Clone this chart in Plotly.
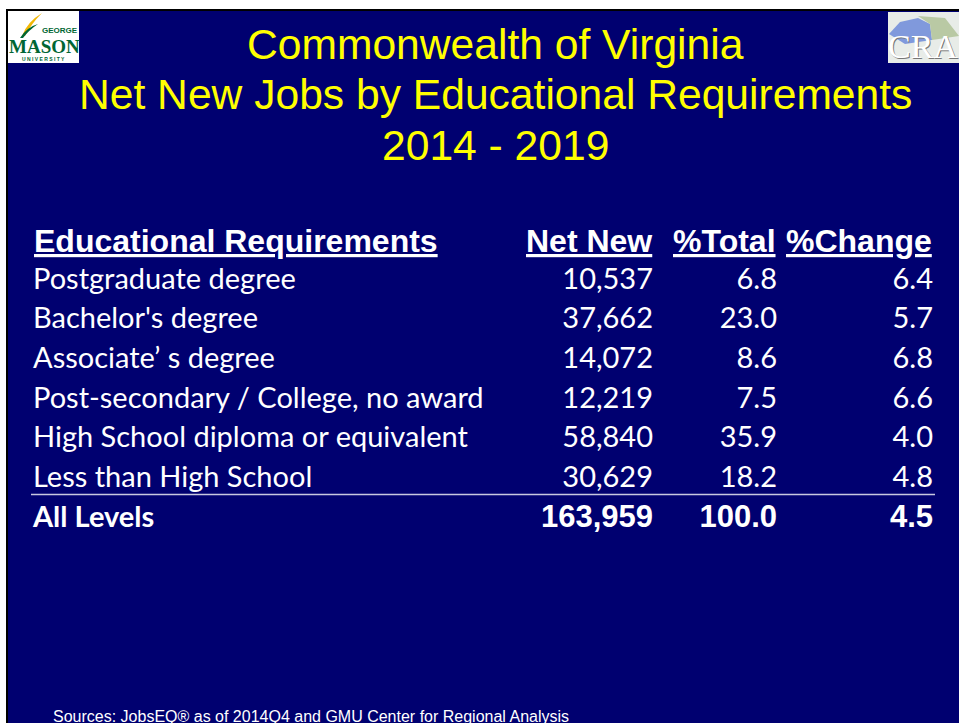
import plotly.graph_objects as go

# --- Data ---
categories = [
    "Postgraduate degree",
    "Bachelor's degree",
    "Associate\u2019 s degree",
    "Post-secondary / College, no award",
    "High School diploma or equivalent",
    "Less than High School",
]
net_new = [10537, 37662, 14072, 12219, 58840, 30629]
pct_total = [6.8, 23.0, 8.6, 7.5, 35.9, 18.2]
pct_change = [6.4, 5.7, 6.8, 6.6, 4.0, 4.8]

total_label = "All Levels"
total_net_new = 163959
total_pct_total = 100.0
total_pct_change = 4.5

headers = ["Educational Requirements", "Net New", "%Total", "%Change"]
title_lines = ["Commonwealth of Virginia", "Net New Jobs by Educational Requirements", "2014 - 2019"]
source_text = "Sources: JobsEQ\u00ae as of 2014Q4 and GMU Center for Regional Analysis"

# --- Styles ---
W, H = 959, 723
BG = "#000070"
YELLOW = "#FFFF00"
ARIAL = "Liberation Sans, Arial, sans-serif"
CALIBRI = "Lato, Carlito, Calibri, sans-serif"
SERIF = "Liberation Serif, Times New Roman, serif"

# column anchors (px): label column is left aligned, numbers right aligned
COL_X = [33, 653, 777, 933]
HEADER_Y = 241
FIRST_ROW_Y, LAST_ROW_Y = 281.5, 519.5   # centre of first row / total row (text sits a bit high)


def px(x):
    return x / W


def py(y):
    return 1 - y / H


# --- Rows (categories + total) ---
rows = categories + [total_label]
n = len(categories)
row_text = [[c for c in categories] + [f"<b>{total_label}</b>"],
            [f"{v:,}" for v in net_new] + [f"<b>{total_net_new:,}</b>"],
            [f"{v:.1f}" for v in pct_total] + [f"<b>{total_pct_total:.1f}</b>"],
            [f"{v:.1f}" for v in pct_change] + [f"<b>{total_pct_change:.1f}</b>"]]

fig = go.Figure()
for i, texts in enumerate(row_text):
    if i == 0:
        fam = [CALIBRI] * (n + 1)
        size = [29] * (n + 1)
        pos = "middle right"
    else:
        fam = [CALIBRI] * n + [ARIAL]
        size = [29] * n + [31]
        pos = "middle left"
    fig.add_trace(go.Scatter(
        x=[COL_X[i]] * len(rows), y=rows, text=texts,
        mode="text", textposition=pos,
        textfont=dict(family=fam, size=size, color="white"),
        hoverinfo="skip", showlegend=False, cliponaxis=False,
    ))

shapes = [
    # slide background with dark frame
    dict(type="rect", xref="paper", yref="paper", x0=px(7), x1=1.02, y0=-0.02, y1=py(10),
         fillcolor=BG, line=dict(color="black", width=2), layer="below"),
    # rule above the total row
    dict(type="line", xref="paper", yref="paper", x0=px(31), x1=px(935), y0=py(494.5), y1=py(494.5),
         line=dict(color="#C8C8E0", width=1.5)),
    # GMU logo box
    dict(type="rect", xref="paper", yref="paper", x0=px(8), x1=px(79), y0=py(63), y1=py(11),
         fillcolor="white", line=dict(width=0)),
    dict(type="path", xref="paper", yref="paper",
         path=f"M {px(22)},{py(36)} Q {px(27)},{py(22)} {px(42)},{py(13)} Q {px(31)},{py(24)} {px(25)},{py(36)} Z",
         fillcolor="#F2B705", line=dict(width=0)),
    dict(type="path", xref="paper", yref="paper",
         path=f"M {px(20)},{py(38)} Q {px(27)},{py(27)} {px(38)},{py(24)} Q {px(29)},{py(30)} {px(23)},{py(38)} Z",
         fillcolor="#006633", line=dict(width=0)),
    # CRA logo box
    dict(type="rect", xref="paper", yref="paper", x0=px(888), x1=1.0, y0=py(63), y1=py(12),
         fillcolor="#E8ECE8", line=dict(width=0)),
    dict(type="path", xref="paper", yref="paper",
         path=f"M {px(889)},{py(34)} L {px(900)},{py(22)} L {px(918)},{py(18)} L {px(930)},{py(24)} L {px(932)},{py(40)} L {px(905)},{py(44)} Z",
         fillcolor="#8099DC", line=dict(width=0)),
    dict(type="path", xref="paper", yref="paper",
         path=f"M {px(918)},{py(16)} L {px(945)},{py(18)} L {px(959)},{py(36)} L {px(932)},{py(40)} L {px(930)},{py(24)} Z",
         fillcolor="#B9C9A4", line=dict(width=0)),
]

annotations = []
for i, line in enumerate(title_lines):
    annotations.append(dict(
        text=line, x=px(495), y=py(44 + 50.5 * i), xref="paper", yref="paper",
        xanchor="center", yanchor="middle", showarrow=False,
        font=dict(family=ARIAL, size=42.6, color=YELLOW),
    ))
for i, h in enumerate(headers):
    annotations.append(dict(
        text=f"<b><u>{h}</u></b>", x=px(COL_X[i] + (-1 if i == 0 else 1)), y=py(HEADER_Y),
        xref="paper", yref="paper", xanchor="left" if i == 0 else "right", yanchor="middle",
        showarrow=False, font=dict(family=ARIAL, size=32, color="white"),
    ))
annotations.append(dict(
    text=source_text, x=px(51), y=py(716), xref="paper", yref="paper",
    xanchor="left", yanchor="middle", showarrow=False,
    font=dict(family=ARIAL, size=16, color="white"),
))
# logo lettering
annotations += [
    dict(text="<b>GEORGE</b>", x=px(60), y=py(31), xref="paper", yref="paper", showarrow=False,
         xanchor="center", yanchor="middle", font=dict(family=ARIAL, size=8, color="#006633")),
    dict(text="<b>MASON</b>", x=px(44), y=py(46), xref="paper", yref="paper", showarrow=False,
         xanchor="center", yanchor="middle", font=dict(family=SERIF, size=19, color="#006633")),
    dict(text="<b>U N I V E R S I T Y</b>", x=px(43), y=py(59), xref="paper", yref="paper", showarrow=False,
         xanchor="center", yanchor="middle", font=dict(family=ARIAL, size=5, color="#006633")),
    dict(text="CRA", x=px(887), y=py(48), xref="paper", yref="paper", xanchor="left", yanchor="middle",
         showarrow=False, font=dict(family=SERIF, size=34, color="#777777")),
    dict(text="CRA", x=px(886), y=py(47), xref="paper", yref="paper", xanchor="left", yanchor="middle",
         showarrow=False, font=dict(family=SERIF, size=34, color="white")),
]

step = (LAST_ROW_Y - FIRST_ROW_Y) / n
fig.update_layout(
    width=W, height=H,
    margin=dict(l=0, r=0, t=0, b=0),
    paper_bgcolor="white",
    plot_bgcolor="rgba(0,0,0,0)",
    xaxis=dict(range=[0, W], visible=False, fixedrange=True),
    yaxis=dict(type="category", categoryarray=rows, range=[n + 0.5, -0.5], visible=False,
               domain=[py(LAST_ROW_Y + step / 2), py(FIRST_ROW_Y - step / 2)], fixedrange=True),
    shapes=shapes,
    annotations=annotations,
)

fig.write_html("out.html", config={"displayModeBar": False},
               post_script="document.body.style.margin='0';")
